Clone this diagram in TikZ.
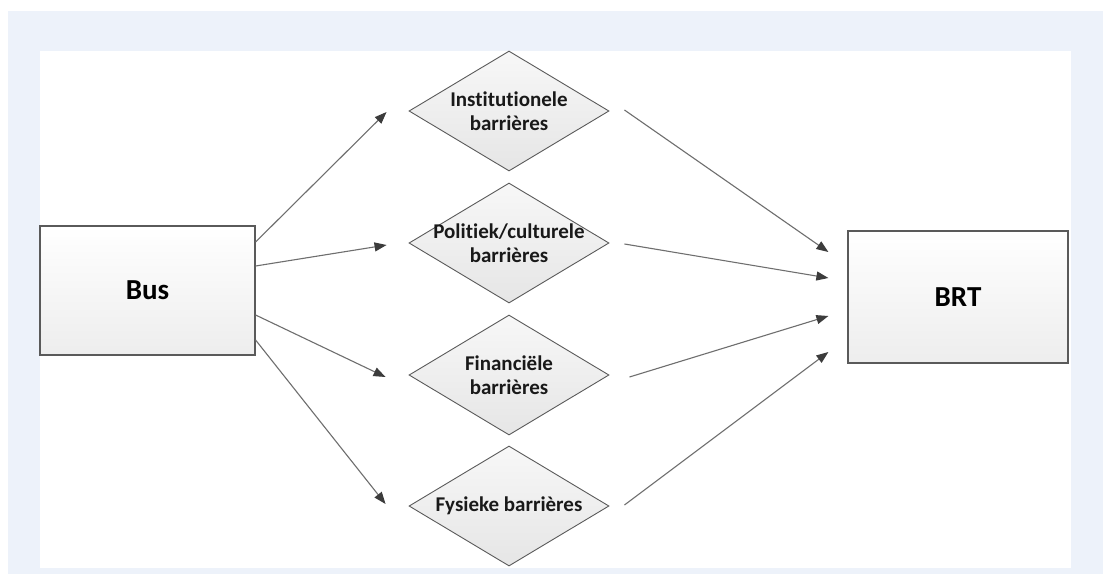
\documentclass[tikz,border=0pt]{standalone}
\usepackage{fontspec}
\setmainfont{Carlito}[Ligatures={NoCommon,NoRare,NoDiscretionary}]
\usetikzlibrary{shapes.geometric,arrows.meta,calc}
\definecolor{frameblue}{HTML}{EDF2FA}
\definecolor{edgegray}{HTML}{5A5A5A}
\definecolor{linegray}{HTML}{6E6E6E}
\definecolor{tipgray}{HTML}{3C3C3C}
\tikzset{
  box/.style={draw=edgegray, line width=1.2pt, top color=white, bottom color=black!7,
    minimum width=#1, font=\bfseries\fontsize{29}{34}\selectfont, inner sep=0pt},
  barrier/.style={diamond, draw=edgegray, line width=0.9pt, top color=black!3, bottom color=black!10,
    minimum width=200pt, minimum height=120pt, inner sep=0pt},
  bartext/.style={font=\bfseries\fontsize{21}{24}\selectfont, align=center, text=black!90},
  flow/.style={draw=linegray, line width=1.1pt,
    -{Triangle[length=12pt,width=9pt,fill=tipgray,color=tipgray]}},
}
\begin{document}
\begin{tikzpicture}[x=1pt,y=-1pt]
  % page, blue frame and white canvas
  \useasboundingbox (0,0) rectangle (1103,574);
  \fill[white] (0,0) rectangle (1103,574);
  \fill[frameblue] (8,11) rectangle (1103,574);
  \fill[white] (40,51) rectangle (1071,568);

  % end points
  \node[box=215pt, minimum height=129pt] (bus) at (147.5,290.5) {Bus};
  \node[box=220pt, minimum height=132pt] (brt) at (958,297) {BRT};

  % the four barriers
  \node[barrier] (inst) at (509,111) {};
  \node[barrier] (pol)  at (509,243) {};
  \node[barrier] (fin)  at (509,375) {};
  \node[barrier] (fys)  at (509,506) {};
  \node[bartext] (inst-t) at (inst.center) {Institutionele\\barrières};
  \node[bartext] (pol-t)  at (pol.center)  {Politiek/culturele\\barrières};
  \node[bartext] (fin-t)  at (fin.center)  {Financiële\\barrières};
  \node[bartext] (fys-t)  at (fys.center)  {Fysieke barrières};

  % Bus towards the barriers
  \draw[flow] ([yshift=48.5pt]bus.east) -- ([xshift=-22pt,yshift=-1pt]inst.west);
  \draw[flow] ([yshift=24.5pt]bus.east) -- ([xshift=-22pt,yshift=-2pt]pol.west);
  \draw[flow] ([yshift=-24.5pt]bus.east) -- ([xshift=-23pt,yshift=-2pt]fin.west);
  \draw[flow] ([yshift=-49.5pt]bus.east) -- ([xshift=-23pt,yshift=2pt]fys.west);

  % barriers towards BRT
  \draw[flow] ([xshift=15pt,yshift=1pt]inst.east) -- ([xshift=-19pt,yshift=45pt]brt.west);
  \draw[flow] ([xshift=15pt,yshift=-1pt]pol.east) -- ([xshift=-19pt,yshift=19pt]brt.west);
  \draw[flow] ([xshift=20pt,yshift=-2pt]fin.east) -- ([xshift=-19pt,yshift=-19pt]brt.west);
  \draw[flow] ([xshift=15pt,yshift=1pt]fys.east) -- ([xshift=-19pt,yshift=-55pt]brt.west);
\end{tikzpicture}
\end{document}
